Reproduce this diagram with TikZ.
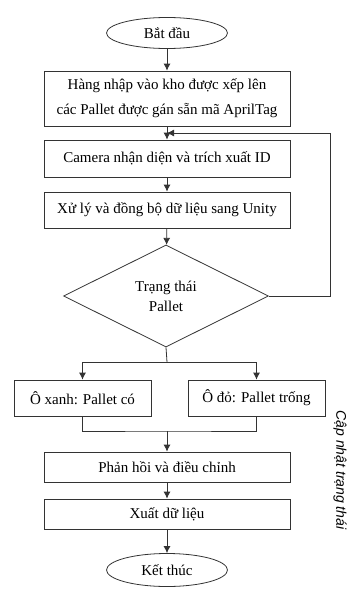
\documentclass[tikz,border=0pt]{standalone}
\usepackage{fontspec}
\setmainfont{Liberation Serif}
\setsansfont{Liberation Sans}
\usetikzlibrary{shapes.geometric,arrows.meta}
\begin{document}
\begin{tikzpicture}[x=1pt, y=-1pt,
    line/.style={draw=black!80, line width=0.8pt},
    flow/.style={line, -{Latex[length=7pt, width=7pt]}},
    procbox/.style={line, shape=rectangle, minimum width=246pt, minimum height=30pt, anchor=center, align=center, font=\fontsize{15}{25}\selectfont},
    endpoint/.style={line, shape=ellipse, minimum width=121pt, minimum height=31pt, font=\fontsize{15}{18}\selectfont}]
            \useasboundingbox (0,0) rectangle (347,589);
            \node (start) [endpoint] at (167,33) {Bắt đầu};
            \node (load) [procbox, minimum height=55pt] at (167,98.5) {Hàng nhập vào kho được xếp lên\\các Pallet được  gán sẵn mã AprilTag};
            \node (cam) [procbox, minimum height=37pt] at (167,158.5) {Camera nhận diện và trích xuất ID};
            \node (sync) [procbox, minimum height=36pt] at (167,210) {Xử lý và đồng bộ dữ liệu sang Unity};
            \node (state) [line, shape=diamond, aspect=2, inner sep=0pt, minimum width=205pt, minimum height=102pt, align=center, font=\fontsize{15}{20}\selectfont] at (166,296) {Trạng thái\\Pallet};
            \node (full) [procbox, minimum width=137pt, minimum height=36pt] at (82.5,398) {Ô xanh: Pallet có};
            \node (empty) [procbox, minimum width=137pt, minimum height=36pt] at (256.5,398) {Ô đỏ: Pallet trống};
            \node (adjust) [procbox] at (167,467) {Phản hồi và điều chỉnh};
            \node (export) [procbox] at (167,514) {Xuất dữ liệu};
            \node (end) [endpoint, minimum height=33pt] at (167,570) {Kết thúc};
            \node (update) [rotate=-90, font=\sffamily\itshape\fontsize{14}{16}\selectfont] at (340,470) {Cập nhật trạng thái};

            % main flow
            \draw [flow] (start) -- (load);
            \draw [flow] (load) -- (cam);
            \draw [flow] (cam) -- (sync);
            \draw [flow] (sync) -- (state);

            % branches
            \coordinate (split) at (167,362);
            \draw [line] (state.south) -- (split);
            \draw [flow] (split) -| (full.north);
            \draw [flow] (split) -| (empty.north);
            \coordinate (merge) at (167,431);
            \draw [line] (full.south) |- (merge) -| (empty.south);
            \draw [flow] (merge) -- (adjust);
            \draw [flow] (adjust) -- (export);
            \draw [flow] (export) -- (end);

            % loop back
            \coordinate (corner) at (330,133);
            \coordinate (loopin) at (167,133);
            \draw [flow] (state.east) -| (corner) -- (loopin);
        \end{tikzpicture}
\end{document}
